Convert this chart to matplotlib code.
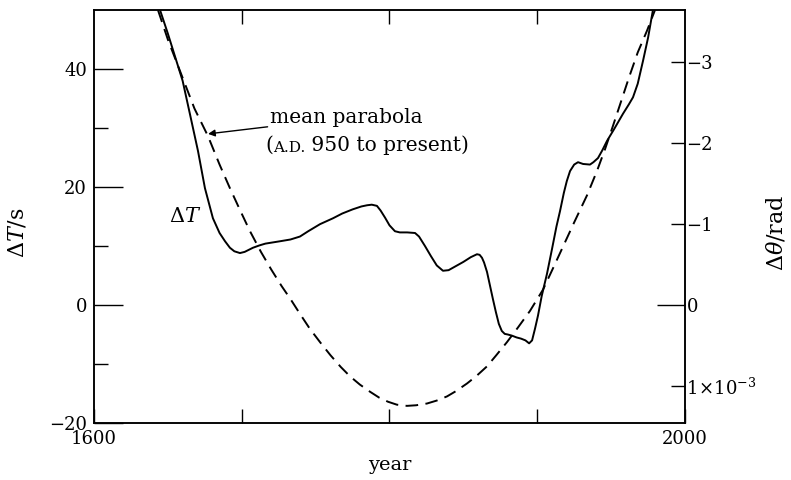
import numpy as np
import matplotlib
matplotlib.use('Agg')
import matplotlib.pyplot as plt

plt.rcParams['font.family'] = ['DejaVu Serif']
plt.rcParams['mathtext.fontset'] = 'dejavuserif'

dt_year = [1644.7, 1650, 1655, 1660, 1665, 1670.4, 1675.1, 1680.5, 1685,
           1688.7, 1692, 1695, 1698.8, 1702, 1707.6, 1712, 1716, 1725.9, 1733,
           1739.4, 1745, 1753, 1761.8, 1768, 1775, 1781, 1784.8, 1788, 1791.5,
           1794, 1797, 1800, 1803.7, 1807, 1812, 1817.3, 1820, 1824, 1828,
           1832, 1836.2, 1840, 1845, 1850, 1855, 1859.2, 1861, 1862.6, 1864,
           1866, 1868, 1870, 1872, 1874, 1876, 1878, 1880, 1882.9, 1886,
           1889, 1892, 1894.5, 1896.5, 1898.5, 1900.5, 1903, 1906.6, 1910, 1913,
           1915.4, 1918, 1920, 1922.2, 1925, 1927.6, 1931, 1935.7, 1938, 1941.1,
           1944, 1947.2, 1952, 1958, 1962, 1964.8, 1968, 1971.6, 1975, 1978.3]
dt_val = [50.0, 46.0, 42.0, 38.0, 32.3, 26.1, 19.8, 14.7, 12.2,
          10.8, 9.7, 9.1, 8.8, 9.0, 9.7, 10.1, 10.4, 10.8, 11.1,
          11.6, 12.5, 13.7, 14.7, 15.5, 16.2, 16.7, 16.9, 17.0, 16.8,
          16.0, 14.8, 13.5, 12.5, 12.3, 12.3, 12.2, 11.6, 10.0, 8.3,
          6.7, 5.8, 5.9, 6.6, 7.3, 8.1, 8.6, 8.5, 8.0, 7.2,
          5.6, 3.3, 1.0, -1.2, -3.2, -4.4, -4.9, -5.0, -5.2, -5.5,
          -5.7, -6.0, -6.5, -6.0, -4.0, -1.8, 1.5, 5.3, 9.5, 13.3,
          15.9, 19.0, 21.0, 22.7, 23.8, 24.2, 23.9, 23.8, 24.2, 24.9,
          26.2, 27.8, 29.8, 32.4, 34.0, 35.2, 37.5, 41.4, 45.3, 50.0]

# === mean parabola (A.D. 950 to present) ===
par_year = [1643.3, 1650, 1660, 1668, 1677.2, 1685, 1692, 1699, 1705.6, 1713,
            1720, 1727, 1733, 1739.4, 1746, 1753, 1760, 1767, 1773.3, 1780,
            1786.8, 1793, 1799, 1805, 1811.8, 1818, 1825.4, 1832, 1838.9, 1845,
            1852.5, 1859, 1866, 1872, 1879.5, 1887, 1895.1, 1903.9, 1911, 1918,
            1925, 1933.7, 1940.4, 1946, 1951.3, 1957, 1962, 1968, 1974.3, 1979.7]
par_val = [50.0, 45.0, 38.5, 33.3, 28.6, 23.8, 19.8, 16.0, 12.5, 9.0,
           6.0, 3.2, 1.0, -1.5, -4.0, -6.3, -8.5, -10.5, -12.1, -13.5,
           -14.7, -15.7, -16.4, -16.9, -17.1, -17.0, -16.7, -16.2, -15.5, -14.6,
           -13.3, -12.0, -10.4, -8.6, -6.3, -3.8, -1.0, 2.6, 6.4, 10.2,
           14.0, 18.6, 22.7, 26.5, 30.4, 34.7, 38.5, 42.8, 46.5, 50.0]

left_ticks = [-20, 0, 20, 40]
left_minor = [-10, 10, 30]
x_ticks = [1600, 2000]
x_minor = [1700, 1800, 1900]
right_ticks = [-3, -2, -1, 0, 1]
right_labels = ['\u22123', '\u22122', '\u22121', '0', r'$1\!\times\!10^{-3}$']
rad_per_s = 0.0727  # 1e-3 rad per second of Delta T

fig = plt.figure(figsize=(7.91, 4.80), dpi=100)
ax = fig.add_axes([0.1188, 0.1188, 0.7472, 0.8604])

ax.plot(dt_year, dt_val, color='black', lw=1.4, solid_joinstyle='round')
ax.plot(par_year, par_val, color='black', lw=1.4, dashes=(6.5, 3.8))

ax.set_xlim(1600, 2000)
ax.set_ylim(-20, 50)
ax.set_xticks(x_ticks)
ax.set_xticks(x_minor, minor=True)
ax.set_yticks(left_ticks)
ax.set_yticks(left_minor, minor=True)
ax.tick_params(axis='both', which='both', direction='in', length=10, width=1,
               labelsize=13, color='black')
ax.tick_params(axis='x', which='minor', top=True)
ax.tick_params(axis='y', pad=5)
ax.tick_params(axis='x', pad=5)
for s in ax.spines.values():
    s.set_linewidth(1.1)

# long tick at zero
for t in ax.yaxis.get_major_ticks():
    if t.get_loc() == 0:
        t.tick1line.set_markersize(21)

ax.set_xlabel('year', fontsize=14, labelpad=6)
ax.set_ylabel(r'$\Delta T/\mathrm{s}$', fontsize=16)
ax.yaxis.set_label_coords(-0.11, 0.46)

# right axis: Delta theta / rad
ax2 = ax.twinx()
ax2.set_ylim(-20 * -rad_per_s, 50 * -rad_per_s)
ax2.set_yticks(right_ticks)
ax2.set_yticklabels(right_labels)
ax2.tick_params(axis='y', direction='in', length=10, width=1, labelsize=13, pad=1)
for t in ax2.yaxis.get_major_ticks():
    if t.get_loc() == 0:
        t.tick2line.set_markersize(20)
for s in ax2.spines.values():
    s.set_linewidth(1.1)
ax2.set_ylabel(r'$\Delta\theta/\mathrm{rad}$', fontsize=16)
ax2.yaxis.set_label_coords(1.135, 0.46)

# annotations
ax.text(1661.5, 15.0, r'$\Delta T$', fontsize=15, ha='center', va='center')
ax.annotate('', xy=(1677.2, 29.0), xytext=(1717.5, 30.2),
            arrowprops=dict(arrowstyle='-|>', color='black', lw=1.0,
                            mutation_scale=10, shrinkA=0, shrinkB=0))
ax.text(1719, 31.8, 'mean parabola', fontsize=14.5, ha='left', va='center')
t1 = ax.text(1716, 27.0, '(', fontsize=14.5, ha='left', va='center')
t2 = ax.annotate('A.D.', xy=(1, 0.02), xycoords=t1, fontsize=11, ha='left', va='bottom')
t3 = ax.annotate(' 950 to present)', xy=(1, -0.02), xycoords=t2, fontsize=14.5, ha='left',
                 va='bottom')

fig.savefig('out.png', dpi=100)
